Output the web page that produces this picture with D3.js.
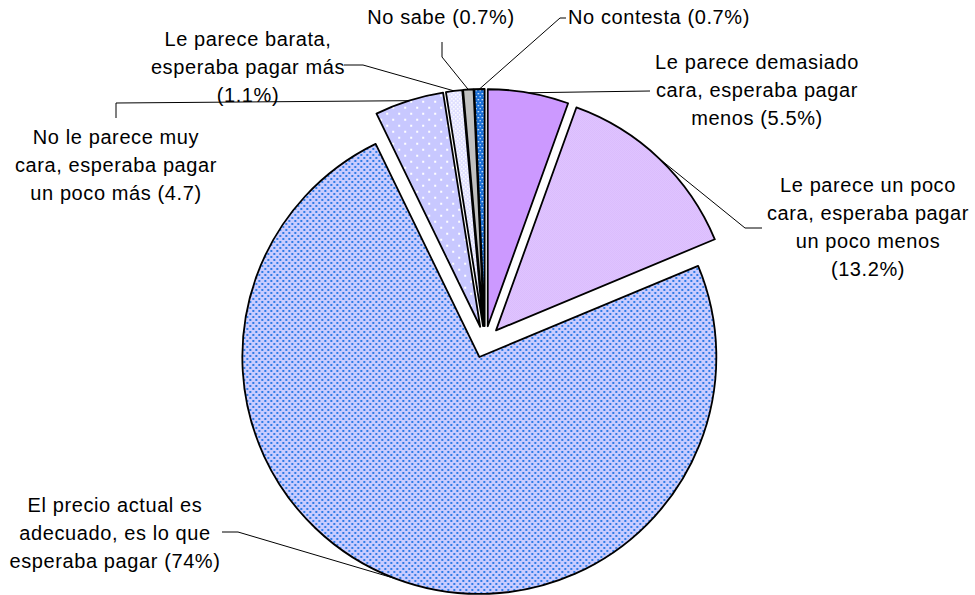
<!DOCTYPE html>
<html>
<head>
<meta charset="utf-8">
<script src="https://cdn.jsdelivr.net/npm/d3@7"></script>
<style>
  html, body { margin: 0; padding: 0; background: #fff; }
  svg text { font-family: "Liberation Sans", Arial, sans-serif; font-size: 20px; letter-spacing: 0.6px; fill: #000; }
</style>
</head>
<body>
<div id="chart"></div>
<script>
// Survey answers, clockwise from 12 o'clock
const categories = [
  "Le parece demasiado cara, esperaba pagar menos",
  "Le parece un poco cara, esperaba pagar un poco menos",
  "El precio actual es adecuado, es lo que esperaba pagar",
  "No le parece muy cara, esperaba pagar un poco más",
  "Le parece barata, esperaba pagar más",
  "No sabe",
  "No contesta"
];
const values = [5.5, 13.2, 74, 4.7, 1.1, 0.7, 0.7];
const labelLines = [
  ["Le parece demasiado", "cara, esperaba pagar", "menos (5.5%)"],
  ["Le parece un poco", "cara, esperaba pagar", "un poco menos", "(13.2%)"],
  ["El precio actual es", "adecuado, es lo que", "esperaba pagar (74%)"],
  ["No le parece muy", "cara, esperaba pagar", "un poco más (4.7)"],
  ["Le parece barata,", "esperaba pagar más", "(1.1%)"],
  ["No sabe (0.7%)"],
  ["No contesta (0.7%)"]
];

const width = 975, height = 595;
const cx = 485, cy = 342, radius = 237, explode = 16;
const lineGap = 28;

// label placement + leader elbows (from label towards the slice)
const labelPos = [
  { x: 757, y: 62, anchor: "middle", leader: [[650, 91]] },
  { x: 868, y: 185, anchor: "middle", leader: [[762, 228], [745, 228]] },
  { x: 115, y: 505, anchor: "middle", leader: [[222, 532], [238, 532]] },
  { x: 116, y: 137, anchor: "middle", leader: [[116, 118], [116, 103]] },
  { x: 248, y: 39, anchor: "middle", leader: [[344, 65], [363, 65]] },
  { x: 441, y: 17, anchor: "middle", leader: [[442, 42], [442, 57]] },
  { x: 568, y: 17, anchor: "start", leader: [[566, 18], [560, 18]] }
];

const fills = [
  "#cc99ff",
  "url(#patPink)",
  "url(#patBig)",
  "url(#patLav)",
  "url(#patBarata)",
  "#c0c0c0",
  "url(#patBlue)"
];

const svg = d3.select("#chart").append("svg")
  .attr("width", width)
  .attr("height", height);

// fill patterns
const defs = svg.append("defs");

function dotPattern(id, w, h, bg, color, dots, size) {
  const p = defs.append("pattern")
    .attr("id", id)
    .attr("patternUnits", "userSpaceOnUse")
    .attr("width", w).attr("height", h);
  p.append("rect").attr("width", w).attr("height", h).attr("fill", bg);
  dots.forEach(([x, y]) => {
    p.append("rect").attr("x", x).attr("y", y)
      .attr("width", size).attr("height", size).attr("fill", color);
  });
}

dotPattern("patBig", 6, 6, "#c9ccff", "#2f7be6", [[1, 1], [4, 4]], 2);
dotPattern("patLav", 12, 12, "#c8c8ff", "#ffffff", [[2, 2], [8, 8]], 2);
dotPattern("patBlue", 4, 6, "#1a6fd6", "#ffffff", [[1, 1], [3, 4]], 1.3);
dotPattern("patPink", 2, 2, "#ebd8ff", "#cfa8fc", [[0, 0], [1, 1]], 1);
dotPattern("patBarata", 4, 4, "#e0e0ff", "#ffffff", [[0, 0], [2, 2]], 1.5);

const pie = d3.pie().sort(null).value((d) => d)(values);
const arc = d3.arc().innerRadius(0).outerRadius(radius);

const shift = (d) => {
  const mid = (d.startAngle + d.endAngle) / 2;
  return [explode * Math.sin(mid), -explode * Math.cos(mid)];
};

const g = svg.append("g").attr("transform", `translate(${cx},${cy})`);

g.selectAll("path.slice")
  .data(pie)
  .enter()
  .append("path")
  .attr("class", "slice")
  .attr("transform", (d) => `translate(${shift(d)})`)
  .attr("d", arc)
  .attr("fill", (d, i) => fills[i])
  .attr("stroke", "#000")
  .attr("stroke-width", 1.8)
  .attr("stroke-linejoin", "round");

// leader lines
const line = d3.line();
pie.forEach((d, i) => {
  const mid = (d.startAngle + d.endAngle) / 2;
  const [sx, sy] = shift(d);
  const end = [cx + sx + radius * Math.sin(mid), cy + sy - radius * Math.cos(mid)];
  svg.append("path")
    .attr("d", line(labelPos[i].leader.concat([end])))
    .attr("fill", "none")
    .attr("stroke", "#000")
    .attr("stroke-width", 1);
});

// labels
labelLines.forEach((lines, i) => {
  const pos = labelPos[i];
  const t = svg.append("text")
    .attr("text-anchor", pos.anchor)
    .attr("dominant-baseline", "central");
  lines.forEach((s, j) => {
    t.append("tspan")
      .attr("x", pos.x)
      .attr("y", pos.y + j * lineGap)
      .text(s);
  });
});
</script>
</body>
</html>
